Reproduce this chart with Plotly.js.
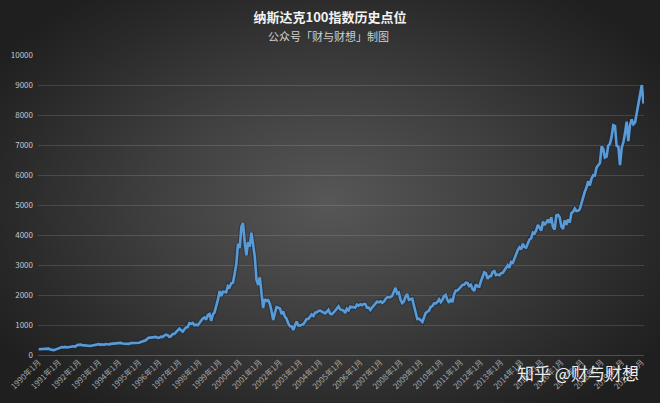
<!DOCTYPE html>
<html><head><meta charset="utf-8">
<script src="https://cdn.plot.ly/plotly-3.0.1.min.js"></script>
<style>
html,body{margin:0;padding:0;}
#chart{width:660px;height:403px;background:radial-gradient(ellipse 60% 65% at 50% 50%, #575757 0%, #3f3f3f 45%, #2a2a2a 80%, #1f1f1f 100%);}
</style></head>
<body><div id="chart"></div>
<script>
const startYear = 1990;
const v1990 = [190,196,203,198,225,229,214,185,167,162,180,200];
const v1991 = [218,245,262,255,270,250,268,285,283,290,280,330];
const v1992 = [350,345,330,320,325,305,315,300,315,330,350,361];
const v1993 = [360,340,355,335,365,360,350,370,380,385,375,398];
const v1994 = [410,405,385,375,375,360,370,395,395,410,395,404];
const v1995 = [410,430,450,470,490,545,580,580,590,595,605,576];
const v1996 = [575,610,600,650,680,660,600,630,700,700,770,821];
const v1997 = [880,820,780,850,920,930,1060,1040,1070,990,1010,990];
const v1998 = [1070,1180,1220,1250,1180,1340,1370,1140,1350,1420,1600,1836];
const v1999 = [2130,1960,2110,2090,2090,2300,2260,2390,2410,2700,3030,3708];
const v2000 = [3570,4270,4397,3770,3320,3760,3610,4080,3570,3280,2510,2341];
const v2001 = [2590,1910,1570,1860,1800,1830,1710,1470,1170,1390,1600,1577];
const v2002 = [1550,1360,1450,1280,1210,1050,960,960,830,990,1120,984];
const v2003 = [980,1010,1020,1110,1200,1200,1290,1350,1300,1410,1420,1467];
const v2004 = [1480,1450,1440,1390,1440,1510,1380,1360,1410,1480,1580,1621];
const v2005 = [1520,1500,1480,1400,1540,1490,1610,1590,1600,1580,1680,1645];
const v2006 = [1690,1660,1700,1700,1580,1580,1500,1580,1650,1740,1780,1756];
const v2007 = [1790,1740,1770,1860,1920,1930,1930,1970,2090,2239,2050,2084];
const v2008 = [1840,1730,1780,1950,2030,1840,1860,1880,1640,1400,1200,1212];
const v2009 = [1160,1100,1240,1400,1440,1480,1600,1630,1720,1720,1770,1860];
const v2010 = [1760,1840,1960,2000,1840,1740,1870,1760,2030,2150,2150,2217];
const v2011 = [2270,2340,2340,2410,2400,2300,2340,2200,2140,2350,2290,2278];
const v2012 = [2460,2600,2760,2720,2540,2620,2630,2770,2800,2660,2680,2660];
const v2013 = [2730,2740,2820,2870,2990,2910,3100,3070,3220,3380,3500,3592];
const v2014 = [3520,3710,3600,3580,3740,3850,3890,4080,4050,4160,4340,4236];
const v2015 = [4150,4450,4330,4410,4510,4400,4590,4270,4180,4650,4670,4593];
const v2016 = [4280,4200,4480,4340,4520,4420,4730,4770,4880,4800,4810,4863];
const v2017 = [5080,5330,5440,5580,5790,5650,5880,5990,5980,6250,6340,6396];
const v2018 = [6950,6860,6580,6610,6970,7040,7270,7660,7630,6970,6950,6330];
const v2019 = [6910,7100,7380,7780,7130,7670,7850,7690,7750,8080,8410,8733];
const v2020 = [9000,8380];

const yearly = [v1990,v1991,v1992,v1993,v1994,v1995,v1996,v1997,v1998,v1999,v2000,v2001,v2002,v2003,v2004,v2005,v2006,v2007,v2008,v2009,v2010,v2011,v2012,v2013,v2014,v2015,v2016,v2017,v2018,v2019,v2020];

const xDates = [], yVals = [];
yearly.forEach((arr, i) => {
  arr.forEach((v, m) => {
    xDates.push((startYear + i) + '-' + String(m + 1).padStart(2, '0') + '-01');
    yVals.push(v);
  });
});

const tickYears = [];
for (let y = 1990; y <= 2020; y++) tickYears.push(y);
const tickVals = tickYears.map(y => y + '-01-01');
const tickText = tickYears.map(y => y + '年1月');

const fontFam = '"Noto Sans CJK SC", "Noto Sans", sans-serif';

const traces = [
  {x: xDates, y: yVals, type: 'scatter', mode: 'lines',
   line: {color: 'rgba(20,40,70,0.5)', width: 4.8}, hoverinfo: 'skip', showlegend: false},
  {x: xDates, y: yVals, type: 'scatter', mode: 'lines',
   line: {color: '#5b9bd5', width: 2.6}, showlegend: false}
];

const layout = {
  width: 660, height: 403,
  paper_bgcolor: 'rgba(0,0,0,0)', plot_bgcolor: 'rgba(0,0,0,0)',
  margin: {l: 38, r: 16, t: 55, b: 48},
  font: {family: fontFam, color: '#bfbfbf'},
  title: {text: '<b>纳斯达克100指数历史点位</b>', font: {size: 13, color: '#f2f2f2', family: fontFam},
          x: 0.5, xanchor: 'center', xref: 'container', y: 1 - 17/403, yref: 'container', yanchor: 'middle'},
  xaxis: {type: 'date', range: ['1989-12-20', '2020-02-10'],
          tickvals: tickVals, ticktext: tickText, tickangle: -45,
          tickfont: {size: 8, color: '#a6a6a6'}, showgrid: false, zeroline: false,
          showline: false, ticks: '', fixedrange: true},
  yaxis: {range: [0, 10000], dtick: 1000, tick0: 0, tickformat: 'd',
          tickfont: {size: 8, color: '#c8c8c8'},
          gridcolor: 'rgba(255,255,255,0.13)', gridwidth: 1, zeroline: true,
          zerolinecolor: 'rgba(255,255,255,0.2)', zerolinewidth: 1,
          showline: false, ticks: '', ticklabelstandoff: 4, fixedrange: true},
  annotations: [
    {text: '公众号「财与财想」制图', xref: 'paper', yref: 'paper', x: 0.48, y: (355-36)/300,
     xanchor: 'center', yanchor: 'middle', showarrow: false,
     font: {size: 11, color: '#d0d0d0', family: fontFam}},
    {text: '知乎 @财与财想', xref: 'paper', yref: 'paper', x: (641-38)/606, y: (355-372)/300,
     xanchor: 'right', yanchor: 'middle', showarrow: false,
     font: {size: 17, color: 'rgba(255,255,255,0.92)', family: fontFam}}
  ]
};

Plotly.newPlot('chart', traces, layout, {displayModeBar: false, staticPlot: true});
</script></body></html>
